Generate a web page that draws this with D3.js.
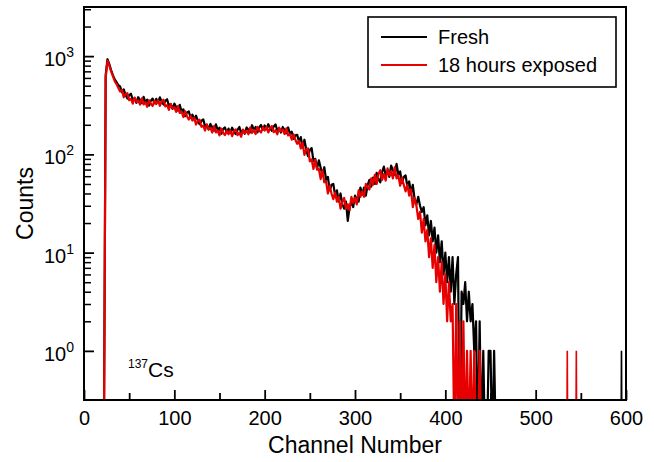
<!DOCTYPE html>
<html lang="en">
  <head>
    <meta charset="UTF-8" />
    <title>137Cs spectrum</title>
    <script src="https://cdn.jsdelivr.net/npm/d3@7/dist/d3.min.js"></script>
    <style>
      body {
        margin: 0;
        background-color: #ffffff;
        font-family: Arial, "Liberation Sans", sans-serif;
      }
    </style>
  </head>
  <body>
    <div id="spectrum_chart"></div>

    <script>
      // channel of the first value and spacing between values
      const firstChannel = 20;
      const channelStep = 2;

      // Fresh detector, channels 20..460 step 2
      const freshCounts = [
        0, 0, 640, 930, 830, 720, 640, 580, 545, 505,
        491, 427, 459, 402, 370, 400, 414, 355, 372, 335,
        382, 356, 332, 385, 338, 360, 314, 352, 370, 331,
        368, 337, 380, 343, 322, 350, 364, 312, 325, 291,
        329, 303, 279, 319, 275, 287, 245, 267, 273, 236,
        254, 227, 248, 220, 203, 219, 227, 193, 201, 179,
        204, 189, 175, 202, 177, 187, 162, 181, 188, 166,
        183, 167, 187, 170, 161, 178, 190, 165, 177, 162,
        188, 178, 168, 198, 177, 190, 167, 189, 199, 178,
        197, 180, 203, 184, 174, 192, 202, 175, 185, 167,
        190, 177, 164, 188, 162, 170, 144, 156, 158, 135,
        150, 117, 141, 112, 96, 111, 116, 86, 90, 72,
        87, 73, 61, 74, 55, 59, 43, 49, 50, 38,
        43, 33, 40, 31, 28, 33, 21, 29, 33, 29,
        38, 35, 33, 46, 39, 46, 38, 49, 55, 47,
        58, 50, 65, 56, 52, 66, 75, 61, 68, 59,
        77, 69, 62, 80, 62, 67, 51, 59, 61, 47,
        53, 40, 49, 35, 31, 37, 30, 26, 29, 19,
        24, 15, 21, 13, 18, 10, 15, 8, 13, 6,
        10, 5, 9, 4, 9, 3, 6, 9, 0, 4,
        3, 5, 2, 4, 2, 3, 1, 2, 0, 2,
        0, 1, 0, 0, 1, 1, 0, 1, 0, 0,
        0,
      ];

      // 18 hours exposed, channels 20..460 step 2
      const exposedCounts = [
        0, 0, 600, 900, 800, 700, 625, 555, 520, 475,
        437, 454, 381, 412, 420, 356, 367, 328, 379, 342,
        355, 321, 372, 322, 340, 305, 356, 327, 311, 350,
        325, 356, 312, 347, 360, 308, 318, 284, 327, 294,
        303, 271, 310, 264, 273, 240, 274, 245, 226, 246,
        221, 235, 201, 219, 225, 191, 196, 175, 201, 180,
        186, 167, 194, 167, 175, 156, 183, 166, 157, 174,
        160, 175, 153, 172, 180, 157, 166, 151, 179, 165,
        174, 160, 188, 165, 177, 161, 190, 175, 167, 188,
        175, 191, 167, 186, 194, 168, 176, 160, 187, 172,
        179, 161, 184, 156, 161, 141, 160, 141, 128, 137,
        115, 132, 99, 112, 115, 85, 89, 71, 88, 70,
        71, 56, 69, 52, 53, 40, 48, 40, 35, 41,
        33, 37, 28, 33, 36, 28, 31, 27, 37, 32,
        36, 31, 43, 37, 42, 37, 50, 46, 44, 57,
        49, 62, 50, 63, 69, 55, 63, 54, 72, 61,
        67, 57, 74, 57, 61, 48, 58, 49, 42, 49,
        38, 44, 29, 36, 30, 22, 26, 16, 22, 13,
        17, 9, 14, 7, 12, 5, 9, 4, 8, 3,
        6, 2, 5, 2, 3, 0, 3, 0, 2, 0,
        2, 0, 1, 0, 1, 0, 1, 0, 0, 1,
        0, 0, 0, 0, 0, 0, 0, 0, 0, 0,
        0,
      ];

      // lone single counts far out in the tail
      const freshSpikes = [595];
      const exposedSpikes = [535, 545];

      const seriesNames = ["Fresh", "18 hours exposed"];
      const seriesColors = ["#000000", "#e60000"];

      const xTicks = [0, 100, 200, 300, 400, 500, 600];
      const xMinorTicks = [50, 150, 250, 350, 450, 550];
      const yTicks = [1, 10, 100, 1000];

      plotSpectrum();

      function plotSpectrum() {
        const element_id = "div#spectrum_chart";
        d3.select(element_id).select("svg").remove();

        const margin = { top: 7, right: 28, bottom: 62, left: 84 };
        const width = 654 - margin.left - margin.right;
        const height = 462 - margin.top - margin.bottom;
        const font = 'Arial, "Liberation Sans", sans-serif';

        const svg = d3
          .select(element_id)
          .append("svg")
          .attr("width", width + margin.left + margin.right)
          .attr("height", height + margin.top + margin.bottom)
          .style("display", "block")
          .append("g")
          .attr("transform", `translate(${margin.left},${margin.top})`);

        const x = d3.scaleLinear().domain([0, 600]).range([0, width]);
        const y = d3
          .scaleLog()
          .domain([Math.pow(10, -0.5), Math.pow(10, 3.5)])
          .range([height, 0]);

        svg
          .append("clipPath")
          .attr("id", "plot_clip")
          .append("rect")
          .attr("width", width)
          .attr("height", height);

        // turn the count arrays into points
        const toPoints = (counts) =>
          counts.map((v, i) => ({ ch: firstChannel + i * channelStep, v: v }));
        const spikePoints = (ch) => [
          { ch: ch - 0.5, v: 0 },
          { ch: ch, v: 1 },
          { ch: ch + 0.5, v: 0 },
        ];

        // zero counts fall below the axis and get clipped
        const line = d3
          .line()
          .x((d) => x(d.ch))
          .y((d) => y(Math.max(d.v, 0.1)));

        const series = [
          { counts: freshCounts, spikes: freshSpikes, color: seriesColors[0] },
          { counts: exposedCounts, spikes: exposedSpikes, color: seriesColors[1] },
        ];

        const plot = svg.append("g").attr("clip-path", "url(#plot_clip)");
        series.forEach((s) => {
          plot
            .append("path")
            .datum(toPoints(s.counts))
            .attr("fill", "none")
            .attr("stroke", s.color)
            .attr("stroke-width", 2.2)
            .attr("stroke-linejoin", "round")
            .attr("d", line);
          s.spikes.forEach((ch) => {
            plot
              .append("path")
              .datum(spikePoints(ch))
              .attr("fill", "none")
              .attr("stroke", s.color)
              .attr("stroke-width", 1.6)
              .attr("d", line);
          });
        });

        // X axis, ticks pointing inward
        const xAxis = svg
          .append("g")
          .attr("transform", `translate(0, ${height})`)
          .call(
            d3
              .axisBottom(x)
              .tickValues(xTicks)
              .tickSizeInner(-10)
              .tickSizeOuter(0)
              .tickPadding(11)
          );
        xAxis.select(".domain").remove();
        xAxis.selectAll(".tick line").attr("stroke-width", 1.8);
        xAxis
          .selectAll(".tick text")
          .attr("fill", "#000")
          .style("font-family", font)
          .style("font-size", "20px");

        const xMinor = svg
          .append("g")
          .attr("transform", `translate(0, ${height})`)
          .call(
            d3
              .axisBottom(x)
              .tickValues(xMinorTicks)
              .tickSizeInner(-7)
              .tickSizeOuter(0)
              .tickFormat("")
          );
        xMinor.select(".domain").remove();
        xMinor.selectAll(".tick line").attr("stroke-width", 1.8);

        // Y axis, log with minor ticks
        const yMinorTicks = [];
        yTicks.forEach((d) => {
          for (let k = 2; k <= 9; k++) {
            if (k * d <= y.domain()[1]) yMinorTicks.push(k * d);
          }
        });

        const yAxis = svg.append("g").call(
          d3
            .axisLeft(y)
            .tickValues(yTicks)
            .tickSizeInner(-10)
            .tickSizeOuter(0)
            .tickFormat("")
        );
        yAxis.select(".domain").remove();
        yAxis.selectAll(".tick line").attr("stroke-width", 1.8);

        const yMinor = svg.append("g").call(
          d3
            .axisLeft(y)
            .tickValues(yMinorTicks)
            .tickSizeInner(-7)
            .tickSizeOuter(0)
            .tickFormat("")
        );
        yMinor.select(".domain").remove();
        yMinor.selectAll(".tick line").attr("stroke-width", 1.5);

        // 10^n labels
        const yLabels = svg
          .append("g")
          .selectAll("text")
          .data(yTicks)
          .enter()
          .append("text")
          .attr("x", -10)
          .attr("y", (d) => y(d) + 10)
          .attr("text-anchor", "end")
          .style("font-family", font)
          .style("font-size", "20px")
          .attr("fill", "#000");
        yLabels.append("tspan").text("10");
        yLabels
          .append("tspan")
          .attr("dy", -9)
          .style("font-size", "14px")
          .text((d) => Math.round(Math.log10(d)));

        // frame
        svg
          .append("rect")
          .attr("width", width)
          .attr("height", height)
          .attr("fill", "none")
          .attr("stroke", "#000")
          .attr("stroke-width", 2);

        // axis titles
        svg
          .append("text")
          .attr("x", width / 2)
          .attr("y", height + 53)
          .attr("text-anchor", "middle")
          .style("font-family", font)
          .style("font-size", "23px")
          .text("Channel Number");

        svg
          .append("text")
          .attr("transform", `translate(${33 - margin.left}, ${height / 2})rotate(-90)`)
          .attr("text-anchor", "middle")
          .style("font-family", font)
          .style("font-size", "23px")
          .text("Counts");

        // isotope note
        const note = svg
          .append("text")
          .attr("x", 128 - margin.left)
          .attr("y", 377 - margin.top)
          .style("font-family", font)
          .style("font-size", "21px");
        note.append("tspan").attr("dy", -9).style("font-size", "12px").text("137");
        note.append("tspan").attr("dy", 9).text("Cs");

        // legend
        const legend = svg
          .append("g")
          .attr("transform", `translate(${368 - margin.left}, ${17 - margin.top})`);
        legend
          .append("rect")
          .attr("width", 248)
          .attr("height", 70)
          .attr("fill", "#fff")
          .attr("stroke", "#000")
          .attr("stroke-width", 1.6);
        seriesNames.forEach((name, i) => {
          const row = legend.append("g").attr("transform", `translate(0, ${20 + i * 28})`);
          row
            .append("line")
            .attr("x1", 13)
            .attr("x2", 59)
            .attr("stroke", seriesColors[i])
            .attr("stroke-width", 2);
          row
            .append("text")
            .attr("x", 70)
            .attr("y", 7)
            .style("font-family", font)
            .style("font-size", "20px")
            .text(name);
        });
      }
    </script>
  </body>
</html>
